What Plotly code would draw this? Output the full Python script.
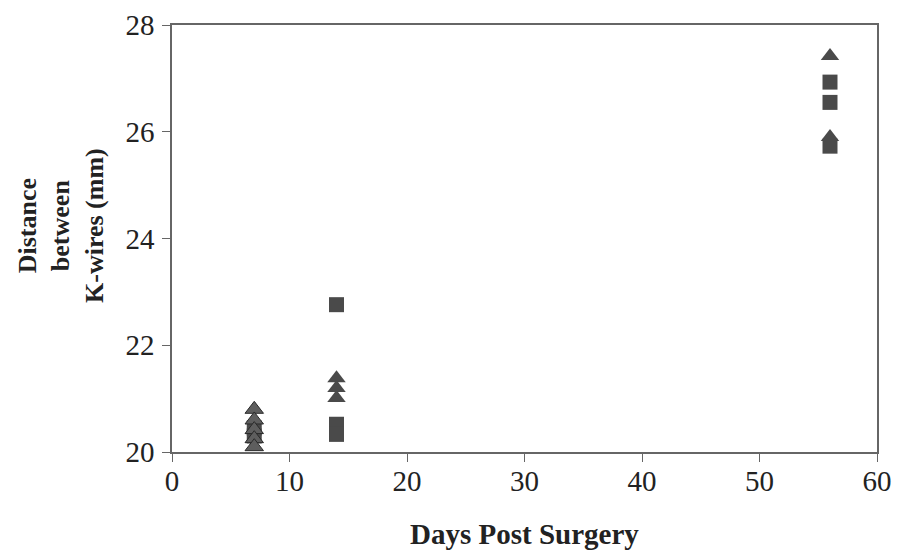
import plotly.graph_objects as go

# Data
tri_days = [7, 7, 7, 7, 7, 14, 14, 14, 56, 56]
tri_vals = [20.8, 20.6, 20.42, 20.25, 20.1, 21.38, 21.2, 21.01, 27.42, 25.9]
sq_days = [7, 7, 14, 14, 14, 56, 56, 56]
sq_vals = [20.45, 20.3, 22.76, 20.52, 20.33, 26.93, 26.55, 25.73]

x_ticks = [0, 10, 20, 30, 40, 50, 60]
y_ticks = [20, 22, 24, 26, 28]

font_fam = "Liberation Serif, Times New Roman, serif"
dark = "#4a4a4a"

fig = go.Figure()
fig.add_trace(go.Scatter(
    x=sq_days, y=sq_vals, mode="markers",
    marker=dict(symbol="square", size=15, color=dark, line=dict(width=0)),
    showlegend=False, cliponaxis=False))
fig.add_trace(go.Scatter(
    x=tri_days, y=tri_vals, mode="markers",
    marker=dict(symbol="triangle-up", size=16, color=[
        "#5e5e5e" if d == 7 else dark for d in tri_days],
        line=dict(width=[1 if d == 7 else 0 for d in tri_days], color="#2a2a2a")),
    showlegend=False, cliponaxis=False))

axis_common = dict(
    showgrid=False, zeroline=False, showline=True, linecolor="#666",
    linewidth=1.5, mirror=True, ticks="outside", ticklen=8, tickcolor="#666",
    automargin=False, ticklabeloverflow="allow",
    tickfont=dict(family=font_fam, size=29, color="#222"))

fig.update_xaxes(range=[0, 60], tickvals=x_ticks, **axis_common,
                 ticklabelstandoff=-6,
                 title=dict(text="<b>Days Post Surgery</b>",
                            font=dict(family=font_fam, size=29, color="#222"),
                            standoff=28))
fig.update_yaxes(range=[20, 28], tickvals=y_ticks, **axis_common,
                 ticklabelstandoff=2)

fig.add_annotation(
    text="<b>Distance<br>between<br>K-wires (mm)</b>",
    xref="paper", yref="paper", x=-0.157, y=0.53, textangle=-90,
    xanchor="center", yanchor="middle",
    showarrow=False, align="center",
    font=dict(family=font_fam, size=26, color="#222"))

fig.update_layout(
    width=901, height=558,
    margin=dict(l=164, r=32, t=17, b=114),
    paper_bgcolor="white", plot_bgcolor="white")

fig.write_html("out.html")
